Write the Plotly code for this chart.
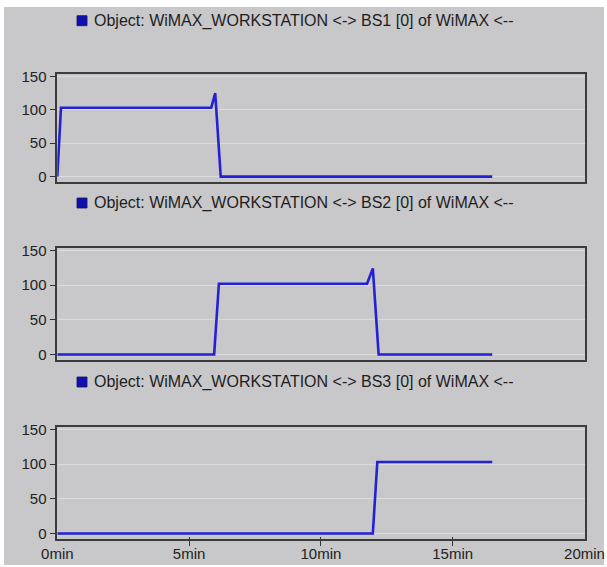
import plotly.graph_objects as go
from plotly.subplots import make_subplots

W, H = 607, 567

# ---- data (time in minutes, value) ----
bs1_time = [0, 0.14, 5.84, 5.99, 6.2, 16.5]
bs1_value = [0, 103, 103, 125, 0, 0]

bs2_time = [0, 5.95, 6.13, 11.75, 11.97, 12.19, 16.5]
bs2_value = [0, 0, 102, 102, 124, 0, 0]

bs3_time = [0, 11.97, 12.14, 16.5]
bs3_value = [0, 0, 103, 103]

titles = [
    "Object: WiMAX_WORKSTATION <-> BS1 [0] of WiMAX <--",
    "Object: WiMAX_WORKSTATION <-> BS2 [0] of WiMAX <--",
    "Object: WiMAX_WORKSTATION <-> BS3 [0] of WiMAX <--",
]
x_tickvals = [0, 5, 10, 15, 20]
x_ticktext = ["0min", "5min", "10min", "15min", "20min"]
y_tickvals = [0, 50, 100, 150]

series = [(bs1_time, bs1_value), (bs2_time, bs2_value), (bs3_time, bs3_value)]

# ---- layout geometry (pixels) ----
def fx(px):
    return px / W

def fy(py):
    return 1 - py / H

panel_px = [(74, 182), (248, 360), (427, 539)]
legend_py = [20.7, 203, 382]
x_dom = [fx(57.3), fx(584.5)]

FONT = "Arial, Liberation Sans, sans-serif"
LINE = "#2222d4"
BG = "#c8c7c9"

fig = make_subplots(rows=3, cols=1)

for i, (t, v) in enumerate(series):
    fig.add_trace(go.Scatter(x=t, y=v, mode="lines",
                             line=dict(color=LINE, width=2.6),
                             showlegend=False, hoverinfo="skip"),
                  row=i + 1, col=1)

for i in range(3):
    n = "" if i == 0 else str(i + 1)
    top, bot = panel_px[i]
    last = (i == 2)
    fig.layout["xaxis" + n].update(
        domain=x_dom, range=[0, 20], tickvals=x_tickvals,
        ticktext=x_ticktext if last else None,
        showticklabels=last, ticks="inside" if last else "",
        ticklen=2, tickcolor="#333", tickwidth=1.2,
        minor=dict(tickvals=x_tickvals, ticks="outside" if last else "",
                   ticklen=5, tickcolor="#333", tickwidth=1.2, showgrid=False),
        showline=True, mirror=True, linecolor="#3c3c3c", linewidth=1.6,
        showgrid=False, zeroline=False, automargin=False,
        tickfont=dict(family=FONT, size=15, color="#222"),
    )
    fig.layout["yaxis" + n].update(
        domain=[fy(bot), fy(top)], range=[-8, 153.5], tickvals=y_tickvals,
        ticks="outside", ticklen=6, tickcolor="#333", tickwidth=1.2,
        showline=True, mirror=True, linecolor="#3c3c3c", linewidth=1.6,
        showgrid=True, gridcolor="#dcdcdc", gridwidth=1, zeroline=False,
        automargin=False,
        tickfont=dict(family=FONT, size=15, color="#222"),
    )

shapes = [dict(type="rect", xref="paper", yref="paper",
               x0=fx(4), x1=fx(604), y0=fy(565), y1=fy(7),
               fillcolor=BG, line=dict(width=0), layer="below")]
annotations = []
for i, title in enumerate(titles):
    cy = legend_py[i]
    shapes.append(dict(type="rect", xref="paper", yref="paper",
                       x0=fx(77), x1=fx(87), y0=fy(cy + 5), y1=fy(cy - 5),
                       fillcolor="#1010b0", line=dict(color="#101060", width=0.8)))
    annotations.append(dict(text=title, xref="paper", yref="paper",
                            x=fx(92), y=fy(cy), xanchor="left", yanchor="middle",
                            showarrow=False,
                            font=dict(family=FONT, size=16, color="#1e1e1e")))

fig.update_layout(
    width=W, height=H, margin=dict(l=0, r=0, t=0, b=0, autoexpand=False),
    paper_bgcolor="white", plot_bgcolor="#f8f6f9",
    shapes=shapes, annotations=annotations, showlegend=False,
)

fig.write_html("out.html")
